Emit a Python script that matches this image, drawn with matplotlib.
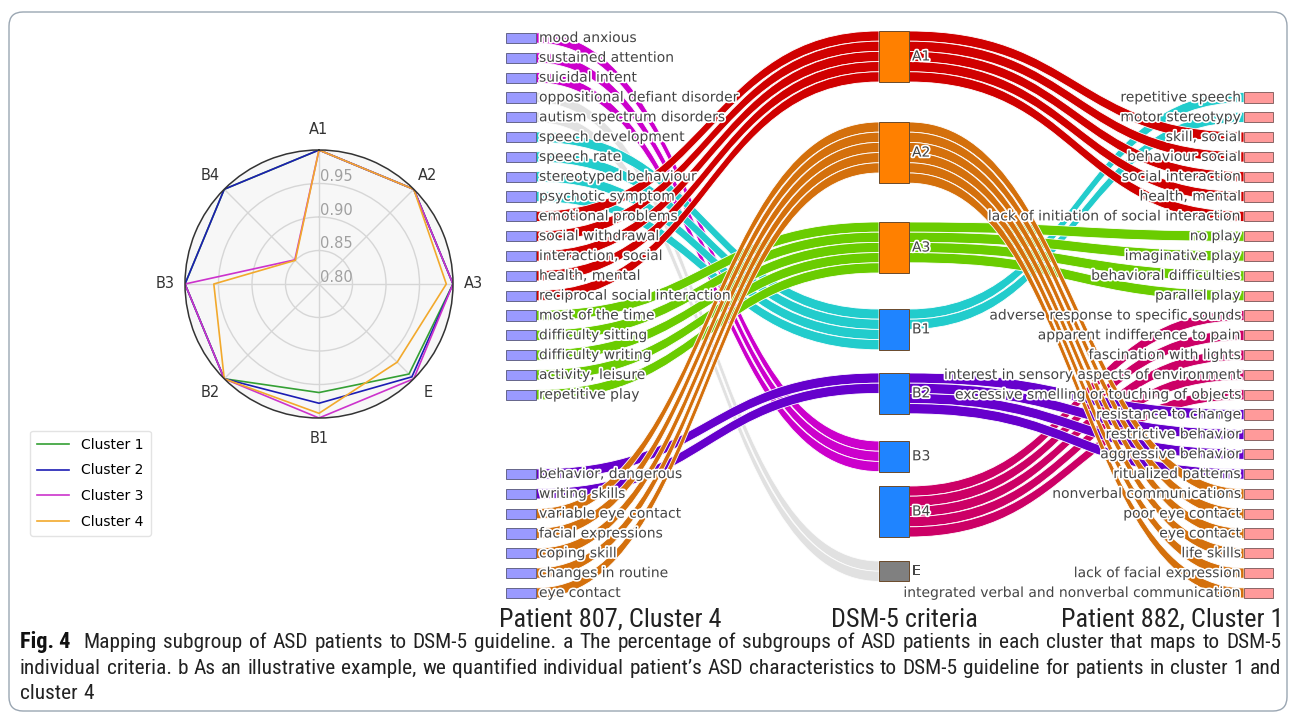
import numpy as np
import matplotlib.pyplot as plt
from matplotlib.path import Path
from matplotlib.patches import PathPatch, Rectangle, FancyBboxPatch
from matplotlib import patheffects, font_manager

# ---------------- panel a: cluster share mapped to each DSM-5 criterion ----------------
criteria = ['A1', 'A2', 'A3', 'E', 'B1', 'B2', 'B3', 'B4']
cluster_names = ['Cluster 1', 'Cluster 2', 'Cluster 3', 'Cluster 4']
cluster1 = [1.0, 1.0, 1.0, 0.990, 0.962, 1.0, 1.0, 1.0]
cluster2 = [1.0, 1.0, 1.0, 0.996, 0.978, 1.0, 1.0, 1.0]
cluster3 = [1.0, 1.0, 1.0, 1.0, 1.0, 1.0, 1.0, 0.851]
cluster4 = [1.0, 1.0, 0.990, 0.965, 0.993, 1.0, 0.957, 0.850]
r_ticks = [0.80, 0.85, 0.90, 0.95]

# ---------------- panel b: patient terms -> DSM-5 criteria ----------------
left_terms = ['mood anxious', 'sustained attention', 'suicidal intent',
              'oppositional defiant disorder', 'autism spectrum disorders',
              'speech development', 'speech rate', 'stereotyped behaviour',
              'psychotic symptom', 'emotional problems', 'social withdrawal',
              'interaction, social', 'health, mental', 'reciprocal social interaction',
              'most of the time', 'difficulty sitting', 'difficulty writing',
              'activity, leisure', 'repetitive play',
              'behavior, dangerous', 'writing skills', 'variable eye contact',
              'facial expressions', 'coping skill', 'changes in routine', 'eye contact']
left_to_criterion = ['B3', 'B3', 'B3', 'E', 'E', 'B1', 'B1', 'B1', 'B1',
                     'A1', 'A1', 'A1', 'A1', 'A1', 'A3', 'A3', 'A3', 'A3', 'A3',
                     'B2', 'B2', 'A2', 'A2', 'A2', 'A2', 'A2']
left_weights = [1, 1, 1, 1, 1, 1, 1, 1, 1, 1, 1, 1, 1,
                1, 1, 1, 1, 1, 1, 1, 1, 1, 1, 1, 1, 1]

mid_nodes = ['A1', 'A2', 'A3', 'B1', 'B2', 'B3', 'B4', 'E']

right_terms = ['repetitive speech', 'motor stereotypy', 'skill, social', 'behaviour social',
               'social interaction', 'health, mental', 'lack of initiation of social interaction',
               'no play', 'imaginative play', 'behavioral difficulties', 'parallel play',
               'adverse response to specific sounds', 'apparent indifference to pain',
               'fascination with lights', 'interest in sensory aspects of environment',
               'excessive smelling or touching of objects', 'resistance to change',
               'restrictive behavior', 'aggressive behavior', 'ritualized patterns',
               'nonverbal communications', 'poor eye contact', 'eye contact', 'life skills',
               'lack of facial expression', 'integrated verbal and nonverbal communication']
criterion_to_right = ['B1', 'B1', 'A1', 'A1', 'A1', 'A1', 'A1', 'A3', 'A3', 'A3', 'A3',
                      'B4', 'B4', 'B4', 'B4', 'B4', 'B2', 'B2', 'B2', 'B2',
                      'A2', 'A2', 'A2', 'A2', 'A2', 'A2']
right_weights = [1, 1, 1, 1, 1, 1, 1, 1, 1, 1, 1, 1, 1,
                 1, 1, 1, 1, 1, 1, 1, 1, 1, 1, 1, 1, 1]

column_titles = ['Patient 807, Cluster 4', 'DSM-5 criteria', 'Patient 882, Cluster 1']

caption_head = 'Fig. 4'
caption_lines = [
    'Mapping subgroup of ASD patients to DSM-5 guideline. a The percentage of subgroups of ASD patients in each cluster that maps to DSM-5',
    'individual criteria. b As an illustrative example, we quantified individual patient\u2019s ASD characteristics to DSM-5 guideline for patients in cluster 1 and',
    'cluster 4',
]

# ---------------- styles ----------------
cluster_colors = ['#34a034', '#1c1cb4', '#cc33cc', '#f2a92c']
node_fill = {'A1': '#ff8000', 'A2': '#ff8000', 'A3': '#ff8000',
             'B1': '#1f84ff', 'B2': '#1f84ff', 'B3': '#1f84ff', 'B4': '#1f84ff',
             'E': '#808080'}
link_fill = {'A1': '#d00000', 'A2': '#d4700c', 'A3': '#6acc00', 'B1': '#22cccc',
             'B2': '#6600cc', 'B3': '#cc00cc', 'B4': '#cc0066', 'E': '#dcdcdc'}
text_gray = '#444444'
halo = [patheffects.withStroke(linewidth=2.4, foreground='white')]


def narrow_family():
    # prefer a condensed face for the caption, fall back to DejaVu Sans
    names = {f.name for f in font_manager.fontManager.ttflist}
    for want in ['Liberation Sans Narrow', 'Roboto Condensed', 'Open Sans Condensed',
                 'Noto Sans Condensed']:
        if want in names:
            return want
    for f in font_manager.fontManager.ttflist:
        if f.stretch in ('condensed', 'semi-condensed', 'extra-condensed') and f.style == 'normal':
            return f.name
    return 'DejaVu Sans'


narrow = narrow_family()
narrow_kw = dict(family=narrow, stretch='condensed')

W, H = 1295, 722
fig = plt.figure(figsize=(W / 100, H / 100), dpi=100)
ax = fig.add_axes([0, 0, 1, 1])
ax.set_xlim(0, W)
ax.set_ylim(H, 0)
ax.axis('off')

ax.add_patch(FancyBboxPatch((9, 12), 1278, 699, boxstyle='round,pad=0,rounding_size=14',
                            fc='none', ec='#9aa6b2', lw=1.0))

# ---------------- sankey layout (pixel space) ----------------
UNIT = 10.2            # px per unit of link weight
PITCH = 19.82          # row pitch of the outer columns
ROW0 = 38              # centre of the first row
LEFT_X = (506, 536)
MID_X = (879, 909)
RIGHT_X = (1244, 1273)
mid_top = [31, 122, 222, 309, 373, 441, 486, 561]

split = left_terms.index('behavior, dangerous')
left_rows = [i if i < split else i + 3 for i in range(len(left_terms))]
right_rows = [i + 3 for i in range(len(right_terms))]


def spans(rows, weights):
    out = []
    for r, w in zip(rows, weights):
        c = ROW0 + r * PITCH
        out.append((c - w * UNIT / 2, c + w * UNIT / 2))
    return out


left_spans = spans(left_rows, left_weights)
right_spans = spans(right_rows, right_weights)

mid_in = {m: 0 for m in mid_nodes}
mid_out = {m: 0 for m in mid_nodes}
for m, w in zip(left_to_criterion, left_weights):
    mid_in[m] += w
for m, w in zip(criterion_to_right, right_weights):
    mid_out[m] += w
mid_spans = {m: (t, t + max(mid_in[m], mid_out[m]) * UNIT) for m, t in zip(mid_nodes, mid_top)}


def ribbon(x0, s0, x1, s1, color, alpha=1.0):
    xm = (x0 + x1) / 2
    verts = [(x0, s0[0]), (xm, s0[0]), (xm, s1[0]), (x1, s1[0]),
             (x1, s1[1]), (xm, s1[1]), (xm, s0[1]), (x0, s0[1]), (x0, s0[0])]
    codes = [Path.MOVETO, Path.CURVE4, Path.CURVE4, Path.CURVE4,
             Path.LINETO, Path.CURVE4, Path.CURVE4, Path.CURVE4, Path.CLOSEPOLY]
    ax.add_patch(PathPatch(Path(verts, codes), fc=color, ec='white', lw=0.6,
                           alpha=alpha, zorder=1))


cursor = {m: mid_spans[m][0] for m in mid_nodes}
for i in np.argsort([s[0] for s in left_spans], kind='stable'):
    m = left_to_criterion[i]
    h = left_weights[i] * UNIT
    ribbon(LEFT_X[1], left_spans[i], MID_X[0], (cursor[m], cursor[m] + h),
           link_fill[m], 0.85 if m == 'E' else 1.0)
    cursor[m] += h

cursor = {m: mid_spans[m][0] for m in mid_nodes}
for j in np.argsort([s[0] for s in right_spans], kind='stable'):
    m = criterion_to_right[j]
    h = right_weights[j] * UNIT
    ribbon(MID_X[1], (cursor[m], cursor[m] + h), RIGHT_X[0], right_spans[j], link_fill[m])
    cursor[m] += h

# nodes and their labels
for term, (y0, y1) in zip(left_terms, left_spans):
    ax.add_patch(Rectangle((LEFT_X[0], y0), LEFT_X[1] - LEFT_X[0], y1 - y0,
                           fc='#9a9aff', ec='#555577', lw=0.6, zorder=3))
    ax.text(LEFT_X[1] + 3, (y0 + y1) / 2, term, ha='left', va='center', fontsize=10,
            color=text_gray, path_effects=halo, zorder=4)

for term, (y0, y1) in zip(right_terms, right_spans):
    ax.add_patch(Rectangle((RIGHT_X[0], y0), RIGHT_X[1] - RIGHT_X[0], y1 - y0,
                           fc='#ff9a9a', ec='#775555', lw=0.6, zorder=3))
    ax.text(RIGHT_X[0] - 3, (y0 + y1) / 2, term, ha='right', va='center', fontsize=10,
            color=text_gray, path_effects=halo, zorder=4)

for m in mid_nodes:
    y0, y1 = mid_spans[m]
    ax.add_patch(Rectangle((MID_X[0], y0), MID_X[1] - MID_X[0], y1 - y0,
                           fc=node_fill[m], ec='#6b4a2a', lw=0.7, zorder=3))
    ax.text(MID_X[1] + 3, (y0 + y1) / 2, m, ha='left', va='center', fontsize=10,
            color=text_gray, path_effects=halo, zorder=4)

title_x = [610, 904, 1172]
titles = [ax.text(x, 620, t, ha='center', va='center', fontsize=14, color='#222222',
                  **narrow_kw) for x, t in zip(title_x, column_titles)]

# ---------------- radar ----------------
cx, cy, R = 319, 284, 134
ax_r = fig.add_axes([(cx - R) / W, (H - cy - R) / H, 2 * R / W, 2 * R / H], projection='polar')
ax_r.set_theta_offset(np.pi / 2)
ax_r.set_theta_direction(-1)
angles = np.linspace(0, 2 * np.pi, len(criteria), endpoint=False)
closed = np.append(angles, angles[0])
lines = []
for vals, name, col in zip([cluster1, cluster2, cluster3, cluster4], cluster_names, cluster_colors):
    ln, = ax_r.plot(closed, np.append(vals, vals[0]), color=col, lw=1.2, label=name)
    lines.append(ln)
ax_r.set_ylim(0.80, 1.0)
ax_r.set_yticks(r_ticks)
ax_r.set_yticklabels([])
for v in r_ticks:
    ax_r.annotate(f'{v:.2f}', xy=(0, v), xytext=(1, 5), textcoords='offset points',
                  ha='left', va='center', fontsize=10.5, color='#a0a0a0')
ax_r.set_xticks(angles)
ax_r.set_xticklabels(criteria, fontsize=10.5, color='#333333')
ax_r.tick_params(axis='x', pad=4)
ax_r.set_facecolor('#f7f7f7')
ax_r.grid(color='#d6d6d6', lw=1)
ax_r.spines['polar'].set_color('#333333')
ax_r.spines['polar'].set_linewidth(1.1)

fig.legend(handles=lines, loc='lower left', bbox_to_anchor=(30 / W, (H - 536) / H),
           borderaxespad=0, fontsize=10, labelspacing=0.85, handlelength=2.3,
           handletextpad=0.9, frameon=True, edgecolor='#dddddd', borderpad=0.5)

# ---------------- caption (justified lines, shared baseline per line) ----------------
CAP_X0, CAP_X1 = 20, 1281
cap_baseline = [648, 674, 699]

fig.canvas.draw()
rend = fig.canvas.get_renderer()

probe = fig.text(0, 0, caption_lines[1], fontsize=12, **narrow_kw)
cap_size = 12 * (CAP_X1 - CAP_X0 - 18) / probe.get_window_extent(rend).width
probe.remove()

w_title = titles[1].get_window_extent(rend).width
for t in titles:
    t.set_fontsize(t.get_fontsize() * 147 / w_title)

rows = []
for k, (y, line) in enumerate(zip(cap_baseline, caption_lines)):
    words = []
    if k == 0:
        words.append(fig.text(0, 1 - y / H, caption_head, fontweight='bold', va='baseline',
                              ha='left', fontsize=cap_size * 1.05, color='#111111', **narrow_kw))
    for w in line.split(' '):
        words.append(fig.text(0, 1 - y / H, w, va='baseline', ha='left', fontsize=cap_size,
                              color='#222222', **narrow_kw))
    rows.append(words)

fig.canvas.draw()
space = 0.28 * cap_size * 100 / 72
for k, words in enumerate(rows):
    widths = [t.get_window_extent(rend).width for t in words]
    extra = space * 1.2 if k == 0 else 0
    if k < len(rows) - 1:
        gap = (CAP_X1 - CAP_X0 - sum(widths) - extra) / (len(words) - 1)
    else:
        gap = space
    x = CAP_X0
    for n, (t, w) in enumerate(zip(words, widths)):
        t.set_x(x / W)
        x += w + gap + (extra if (k == 0 and n == 0) else 0)

fig.savefig('out.png', dpi=100)
